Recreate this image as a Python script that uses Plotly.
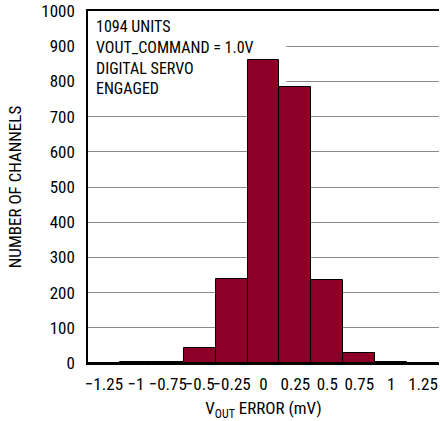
import plotly.graph_objs as go

# bin centres (mV) and channel counts
bin_centers = [-1.25, -1.0, -0.75, -0.5, -0.25, 0.0, 0.25, 0.5, 0.75, 1.0, 1.25]
counts = [0, 3, 3, 43, 240, 861, 784, 236, 28, 3, 0]
tick_vals = bin_centers
tick_text = ["\u22121.25", "\u22121", "\u22120.75", "\u22120.5", "\u22120.25",
             "0", "0.25", "0.5", "0.75", "1", "1.25"]
y_ticks = [0, 100, 200, 300, 400, 500, 600, 700, 800, 900, 1000]

FONT = "Liberation Sans Narrow, Roboto Condensed, Arial Narrow, sans-serif"

fig = go.Figure()
fig.add_trace(go.Bar(
    x=bin_centers,
    y=counts,
    width=0.25,
    marker=dict(color="#8C0028", line=dict(color="black", width=1)),
))

# white box behind the note: hides gridlines but sits under the bars
fig.add_shape(
    type="rect", xref="x", yref="y",
    x0=-1.375, x1=0.18, y0=750, y1=1000,
    fillcolor="white", line=dict(width=0), layer="between",
)
fig.add_annotation(
    xref="paper", yref="paper", x=0.01, y=1.0,
    xanchor="left", yanchor="top", xshift=2, yshift=-4,
    text="1094 UNITS<br>VOUT_COMMAND = 1.0V<br>DIGITAL SERVO<br>ENGAGED",
    showarrow=False, align="left",
    font=dict(family=FONT, size=16, color="black"),
)

fig.update_layout(
    width=440, height=421,
    margin=dict(l=88, r=1, t=11, b=58),
    paper_bgcolor="white", plot_bgcolor="white",
    showlegend=False,
    bargap=0,
    font=dict(family=FONT, size=16, color="black"),
)
fig.update_xaxes(
    range=[-1.375, 1.375], automargin=False,
    tickvals=tick_vals, ticktext=tick_text, tickangle=0,
    showgrid=False, zeroline=False,
    showline=True, linecolor="black", linewidth=1.5, mirror=True,
    ticks="", tickfont=dict(size=17), ticklabelstandoff=5,
    title=dict(text="V<sub>OUT</sub> ERROR (mV)", font=dict(size=17), standoff=10),
)
fig.update_yaxes(
    range=[0, 1000], automargin=False,
    tickvals=y_ticks,
    showgrid=True, gridcolor="#8a8a8a", gridwidth=1, zeroline=False,
    showline=True, linecolor="black", linewidth=1.5,
    ticks="", tickfont=dict(size=17), ticklabelstandoff=8,
    title=dict(text="NUMBER OF CHANNELS", font=dict(size=17), standoff=15),
)

# drop the browser's default body margin so the figure sits at the page corner
fig.write_html("out.html", config={"displayModeBar": False},
               post_script="document.body.style.margin = '0';")
